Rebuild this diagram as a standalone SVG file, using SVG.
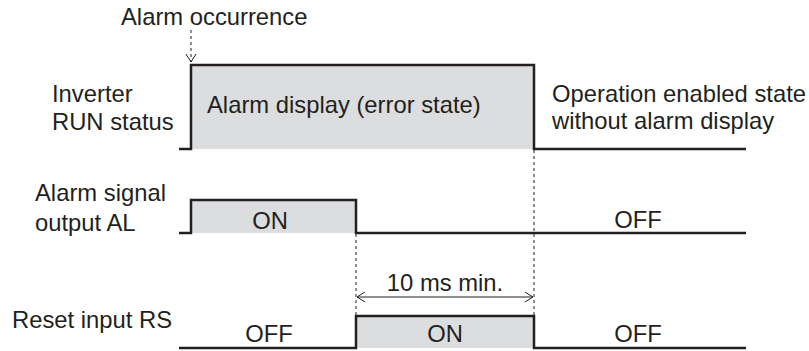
<svg xmlns="http://www.w3.org/2000/svg" width="809" height="351" viewBox="0 0 809 351">
<style>
text{font-family:"Liberation Sans",Arial,sans-serif;font-size:23.8px;fill:#231f20}
.box{fill:#dcddde;stroke:none}
.base{fill:none;stroke:#231f20;stroke-width:2.5}
.dash{fill:none;stroke:#231f20;stroke-width:1;stroke-dasharray:3,3}
.thin{fill:none;stroke:#231f20;stroke-width:1}
</style>
<g id="labels">
<text x="121" y="25">Alarm occurrence</text>
<text x="52" y="102">Inverter</text>
<text x="52" y="130">RUN status</text>
<text x="35" y="201">Alarm signal</text>
<text x="35" y="231">output AL</text>
<text x="12" y="328">Reset input RS</text>
</g>
<g id="run-status">
<rect x="191" y="65" width="343" height="84" class="box"/>
<polyline class="base" points="179,149 191,149 191,65 534,65 534,149 746,149" />
<text x="207" y="113">Alarm display (error state)</text>
<text x="552" y="102">Operation enabled state</text>
<text x="552" y="129">without alarm display</text>
</g>
<g id="alarm-signal">
<rect x="191" y="200" width="165" height="33" class="box"/>
<polyline class="base" points="179,233 191,233 191,200 356,200 356,233 746,233" />
<text x="270" y="229" text-anchor="middle">ON</text>
<text x="638" y="228" text-anchor="middle">OFF</text>
</g>
<g id="reset-input">
<rect x="356" y="316" width="178" height="32" class="box"/>
<polyline class="base" points="179,348 356,348 356,316 534,316 534,348 746,348" />
<text x="269" y="342" text-anchor="middle">OFF</text>
<text x="445" y="342" text-anchor="middle">ON</text>
<text x="638" y="342" text-anchor="middle">OFF</text>
</g>
<g id="connectors">
<line class="dash" x1="191" y1="30" x2="191" y2="62"/>
<polyline class="thin" points="186,54 191,62 196,54"/>
<line class="dash" x1="356" y1="234" x2="356" y2="315"/>
<line class="dash" x1="534" y1="150" x2="534" y2="315"/>
<line class="thin" x1="357" y1="297" x2="533" y2="297"/>
<polyline class="thin" points="365,292 357,297 365,302"/>
<polyline class="thin" points="525,292 533,297 525,302"/>
<text x="445" y="291" text-anchor="middle">10 ms min.</text>
</g>
</svg>
